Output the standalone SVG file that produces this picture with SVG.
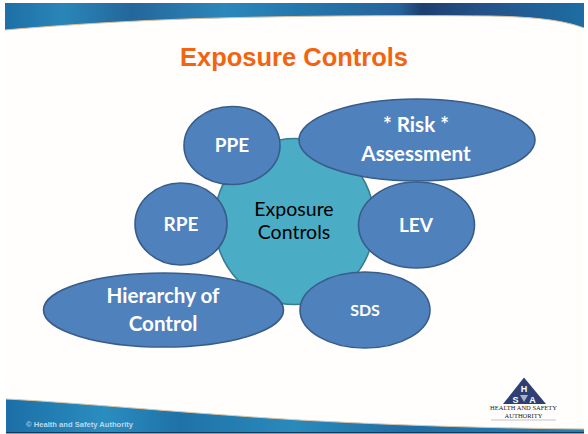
<svg xmlns="http://www.w3.org/2000/svg" width="588" height="434" viewBox="0 0 588 434">
<style>
.n{fill:#4f81bd;stroke:#385d8a;stroke-width:1.6}
.t{font-family:Lato,Carlito,"Open Sans",sans-serif;font-weight:700;fill:#fff;text-anchor:middle}
</style>
<defs>
<linearGradient id="top" x1="0" x2="1" y1="0" y2="0">
<stop offset="0" stop-color="#1d6fa5"/><stop offset=".1" stop-color="#2a86b8"/><stop offset=".22" stop-color="#24669a"/><stop offset=".38" stop-color="#2b88ba"/><stop offset=".5" stop-color="#2478ad"/><stop offset=".68" stop-color="#27639b"/><stop offset=".72" stop-color="#1e3f70"/><stop offset=".84" stop-color="#24548c"/><stop offset="1" stop-color="#1c6ea3"/>
</linearGradient>
<linearGradient id="bot" x1="0" x2="1" y1="0" y2="0">
<stop offset="0" stop-color="#1c6fa6"/><stop offset=".17" stop-color="#2a8dc0"/><stop offset=".3" stop-color="#1f72a8"/><stop offset=".5" stop-color="#2a8abb"/><stop offset=".7" stop-color="#1f6ea6"/><stop offset="1" stop-color="#2680b4"/>
</linearGradient>
</defs>
<rect width="588" height="434" fill="#fff"/>
<rect x="5" y="3" width="579" height="428" fill="#fffefc"/>
<path id="top-band" d="M5 3H584V28C565 21 540 17 490 16C400 15 250 16 160 20C90 23 40 27 5 30Z" fill="url(#top)"/>
<path d="M5 30C40 27 90 23 160 20C250 16 400 15 490 16C540 17 565 21 584 28" fill="none" stroke="#d9c3a3" stroke-width="1"/>
<path id="bottom-band" d="M6 399C70 402 170 412 300 420C390 425 480 428 584 429V432H6Z" fill="url(#bot)"/>
<path d="M6 399C70 402 170 412 300 420C390 425 480 428 584 429" fill="none" stroke="#e0c8a6" stroke-width="1"/>
<rect x="6" y="432" width="578" height="1.500" fill="#123a5c"/>
<text x="26" y="427" font-family="Liberation Sans,Arial,sans-serif" font-size="7.600" font-weight="700" fill="#b9d9ea">© Health and Safety Authority</text>

<text x="294" y="66" font-family="Liberation Sans,Arial,sans-serif" font-size="25.500" font-weight="700" fill="#f2640f" text-anchor="middle">Exposure Controls</text>

<g id="connectors"></g>

<g id="center"><ellipse cx="294.500" cy="221.500" rx="80" ry="83" fill="#4bacc6" stroke="#357d91" stroke-width="1.6"/>
<text font-family="Lato,Carlito,'Open Sans',sans-serif" font-size="19.500" fill="#000" text-anchor="middle"><tspan x="294" y="216">Exposure</tspan><tspan x="294" y="239">Controls</tspan></text></g>
<g id="ppe"><ellipse class="n" cx="232" cy="145.500" rx="48" ry="39"/><text class="t" x="232" y="152" font-size="19">PPE</text></g>
<g id="risk"><ellipse class="n" cx="417" cy="140" rx="118" ry="41"/><text class="t" font-size="20.700"><tspan x="416" y="132">* Risk *</tspan><tspan x="416" y="161">Assessment</tspan></text></g>
<g id="rpe"><ellipse class="n" cx="181" cy="224" rx="46" ry="41"/><text class="t" x="181" y="231" font-size="19">RPE</text></g>
<g id="lev"><ellipse class="n" cx="416.500" cy="225" rx="58" ry="43"/><text class="t" x="416" y="232" font-size="19">LEV</text></g>
<g id="sds"><ellipse class="n" cx="365" cy="310" rx="65" ry="38"/><text class="t" x="365" y="316" font-size="16">SDS</text></g>
<g id="hierarchy"><ellipse class="n" cx="163.500" cy="310" rx="120" ry="37"/><text class="t" font-size="20.600"><tspan x="163" y="303">Hierarchy of</tspan><tspan x="163" y="331">Control</tspan></text></g>

<g id="logo">
<path d="M524 377.500L546 404H503Z" fill="#2e3f73"/>
<text x="524" y="392" font-family="Liberation Sans,Arial,sans-serif" font-size="9" font-weight="700" fill="#fff" text-anchor="middle">H</text>
<text x="515.500" y="402.500" font-family="Liberation Sans,Arial,sans-serif" font-size="9" font-weight="700" fill="#fff" text-anchor="middle">S</text>
<text x="532.500" y="402.500" font-family="Liberation Sans,Arial,sans-serif" font-size="9" font-weight="700" fill="#fff" text-anchor="middle">A</text>
<path d="M520 395L524 402L528 395Z" fill="#a9b0c4"/>
<text x="523.500" y="410" font-family="Liberation Serif,serif" font-size="6.500" fill="#222" text-anchor="middle">HEALTH AND SAFETY</text>
<text x="523.500" y="418" font-family="Liberation Serif,serif" font-size="6.500" fill="#222" text-anchor="middle">AUTHORITY</text>
<path d="M491 420H556" stroke="#888" stroke-width=".5"/>
</g>
</svg>
